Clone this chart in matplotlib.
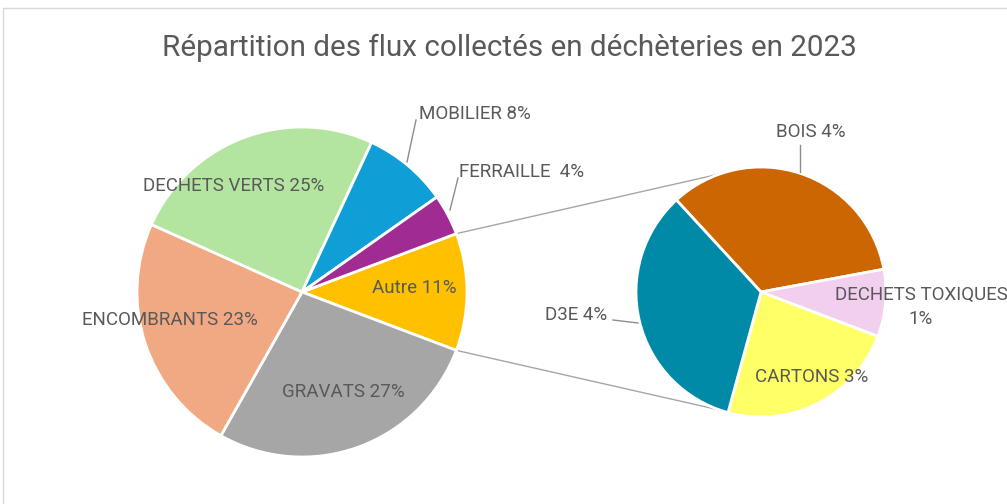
import numpy as np
import matplotlib.pyplot as plt
from matplotlib.patches import Rectangle

plt.rcParams['font.family'] = ['Roboto', 'DejaVu Sans']

# données (parts en % du total)
main_names = ['Autre', 'GRAVATS', 'ENCOMBRANTS', 'DECHETS VERTS', 'MOBILIER', 'FERRAILLE']
main_shown = ['Autre 11%', 'GRAVATS 27%', 'ENCOMBRANTS 23%', 'DECHETS VERTS 25%',
              'MOBILIER 8%', 'FERRAILLE  4%']
main_colors = ['#FFC000', '#A6A6A6', '#F1A983', '#B3E5A1', '#0F9ED5', '#A02B93']

sub_names = ['BOIS', 'DECHETS TOXIQUES', 'CARTONS', 'D3E']
sub_values = [3.9, 1.0, 2.7, 3.9]
sub_shown = ['BOIS 4%', 'DECHETS TOXIQUES\n1%', 'CARTONS 3%', 'D3E 4%']
sub_colors = ['#CC6600', '#F2CEEF', '#FFFF66', '#008AA8']

main_values = [sum(sub_values), 27.4, 23.5, 25.2, 8.3, 4.0]

W, H = 1007, 504
fig = plt.figure(figsize=(W / 100, H / 100), dpi=100)
ax = fig.add_axes([0, 0, 1, 1])
ax.set_xlim(0, W)
ax.set_ylim(0, H)
ax.set_aspect('equal')
ax.axis('off')

# cadre du graphique
fig.patches.append(Rectangle((3 / W, -0.1), 1.2, (H - 8) / H + 0.1, transform=fig.transFigure,
                             fill=False, edgecolor='#D9D9D9', linewidth=1))

c1, r1 = (302, H - 292), 165
c2, r2 = (761, H - 292), 125

start = main_values[0] / sum(main_values) * 360 / 2
w1, _ = ax.pie(main_values, colors=main_colors, center=c1, radius=r1, startangle=start,
               counterclock=False, wedgeprops=dict(edgecolor='white', linewidth=2))
w2, _ = ax.pie(sub_values, colors=sub_colors, center=c2, radius=r2, startangle=132.6,
               counterclock=False, wedgeprops=dict(edgecolor='white', linewidth=2))
ax.set_xlim(0, W)
ax.set_ylim(0, H)

# lignes de liaison
for a1, a2 in [(w1[0].theta2, 109), (w1[0].theta1, -109)]:
    p = (c1[0] + r1 * np.cos(np.radians(a1)), c1[1] + r1 * np.sin(np.radians(a1)))
    q = (c2[0] + r2 * np.cos(np.radians(a2)), c2[1] + r2 * np.sin(np.radians(a2)))
    ax.plot([p[0], q[0]], [p[1], q[1]], color='#A6A6A6', lw=1, zorder=0)

txt = dict(color='#595959', fontsize=13.5, ha='center', va='center')

# positions des étiquettes (pixels)
main_pos = [(414, 288), (343, 392), (170, 320), (234, 186), (475, 114), (522, 172)]
sub_pos = [(811, 132), (921, 307), (812, 377), (576, 315)]

for s, (x, y) in zip(main_shown, main_pos):
    ax.text(x, H - y, s, **txt)
for s, (x, y) in zip(sub_shown, sub_pos):
    ax.text(x, H - y, s, linespacing=1.45, **txt)

# lignes de rappel
leaders = [((416, 120), (407, 162)), ((458, 178), (450, 210)),
           ((800, 145), (800, 172)), ((613, 320), (638, 323))]
for (x0, y0), (x1, y1) in leaders:
    ax.plot([x0, x1], [H - y0, H - y1], color='#8C8C8C', lw=1)

ax.text(W / 2 + 6, H - 48, 'Répartition des flux collectés en déchèteries en 2023',
        color='#595959', fontsize=21.3, ha='center', va='center')

fig.savefig('out.png', dpi=100)
